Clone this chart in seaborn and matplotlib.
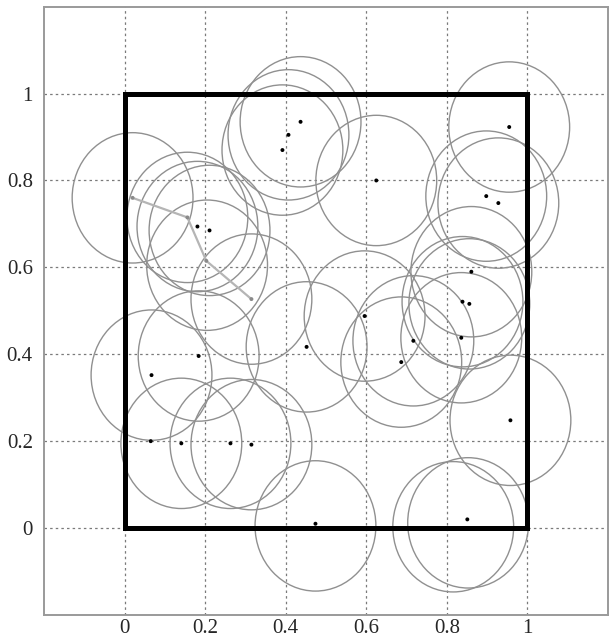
import matplotlib
matplotlib.use("Agg")
import matplotlib.pyplot as plt
from matplotlib.patches import Circle, Rectangle
import seaborn as sns
import pandas as pd

# sensor positions (circle centres)
node_x = [0.020, 0.156, 0.205, 0.315, 0.181, 0.211, 0.437, 0.407, 0.392,
          0.625, 0.955, 0.898, 0.928, 0.861, 0.839, 0.856, 0.596, 0.717,
          0.687, 0.836, 0.958, 0.452, 0.184, 0.067, 0.141, 0.263, 0.315,
          0.474, 0.853, 0.816]
node_y = [0.760, 0.715, 0.605, 0.527, 0.694, 0.685, 0.935, 0.905, 0.870,
          0.800, 0.923, 0.764, 0.748, 0.590, 0.521, 0.516, 0.488, 0.431,
          0.382, 0.438, 0.248, 0.417, 0.396, 0.352, 0.195, 0.195, 0.192,
          0.005, 0.012, 0.003]
radius = 0.15

# black dots
dot_x = [0.181, 0.211, 0.437, 0.407, 0.392, 0.625, 0.955, 0.898, 0.928,
         0.861, 0.839, 0.856, 0.596, 0.717, 0.687, 0.836, 0.958, 0.452,
         0.184, 0.067, 0.141, 0.263, 0.315, 0.474, 0.851, 0.065]
dot_y = [0.694, 0.685, 0.935, 0.905, 0.870, 0.800, 0.923, 0.764, 0.748,
         0.590, 0.521, 0.516, 0.488, 0.431, 0.382, 0.438, 0.248, 0.417,
         0.396, 0.352, 0.195, 0.195, 0.192, 0.010, 0.020, 0.200]

# path of the mobile node
path_x = [0.020, 0.156, 0.203, 0.315]
path_y = [0.760, 0.715, 0.615, 0.527]

ticks = [0, 0.2, 0.4, 0.6, 0.8, 1]
tick_labels = ["0", "0.2", "0.4", "0.6", "0.8", "1"]

sns.set_style("white")
plt.rcParams['font.family'] = ['Liberation Serif', 'DejaVu Serif']

fig = plt.figure(figsize=(6.09, 6.41), dpi=100)
ax = fig.add_axes([0.0722, 0.0406, 0.926, 0.949])

for cx, cy in zip(node_x, node_y):
    ax.add_patch(Circle((cx, cy), radius, fill=False, edgecolor='#909090',
                        linewidth=1.0, zorder=2))

ax.add_patch(Rectangle((0, 0), 1, 1, fill=False, edgecolor='black',
                       linewidth=3.6, zorder=4))

path = pd.DataFrame({'x': path_x, 'y': path_y})
sns.lineplot(data=path, x='x', y='y', sort=False, color='#b5b5b5',
             linewidth=1.6, ax=ax, zorder=3)
sns.scatterplot(data=path, x='x', y='y', color='#8a8a8a', s=8,
                edgecolor='none', ax=ax, zorder=5)

dots = pd.DataFrame({'x': dot_x, 'y': dot_y})
sns.scatterplot(data=dots, x='x', y='y', color='black', s=8,
                edgecolor='none', ax=ax, zorder=5)

ax.set_xlim(-0.2, 1.2)
ax.set_ylim(-0.2, 1.2)
ax.set_xticks(ticks)
ax.set_xticklabels(tick_labels)
ax.set_yticks(ticks)
ax.set_yticklabels(tick_labels)
ax.tick_params(length=0, labelsize=15)
ax.tick_params(axis='y', pad=8)
ax.tick_params(axis='x', pad=3)
ax.set_xlabel('')
ax.set_ylabel('')
ax.grid(True, linestyle=(0, (2, 2.5)), color='#7a7a7a', linewidth=0.9)
ax.set_axisbelow(True)
for s in ax.spines.values():
    s.set_color('#9a9a9a')
    s.set_linewidth(1.4)

plt.savefig('out.png', dpi=100)
plt.close()
